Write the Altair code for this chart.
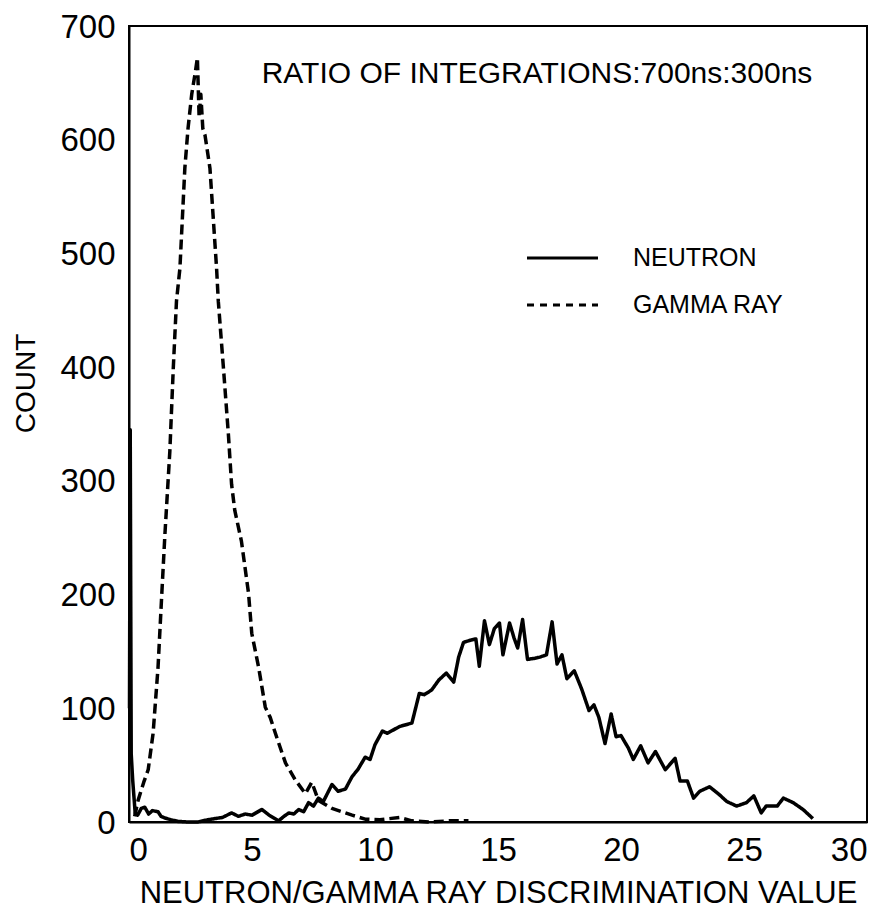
import altair as alt
import pandas as pd

# ---- data ----
neutron_x = [0.02, 0.05, 0.09, 0.15, 0.25, 0.35, 0.5, 0.64, 0.8, 0.95, 1.18, 1.3, 1.46, 1.7, 2.0, 2.4,
             2.8, 3.2, 3.5, 3.8, 4.17, 4.45, 4.72, 5.0, 5.4, 5.7, 6.08, 6.3, 6.5, 6.7, 6.9, 7.1, 7.3,
             7.5, 7.7, 7.9, 8.25, 8.5, 8.8, 9.07, 9.3, 9.6, 9.8, 10.0, 10.3, 10.5, 11.0, 11.5, 11.8,
             12.0, 12.3, 12.6, 12.9, 13.2, 13.4, 13.6, 13.9, 14.1, 14.24, 14.45, 14.65, 14.85, 15.06,
             15.2, 15.47, 15.65, 15.8, 16.0, 16.2, 16.5, 16.7, 16.97, 17.2, 17.4, 17.6, 17.8, 18.1,
             18.4, 18.7, 18.9, 19.1, 19.35, 19.6, 19.8, 20.0, 20.3, 20.5, 20.8, 21.1, 21.4, 21.8,
             22.2, 22.4, 22.7, 22.95, 23.2, 23.6, 24.0, 24.3, 24.7, 25.1, 25.4, 25.7, 25.9, 26.35,
             26.6, 27.0, 27.4, 27.8]
neutron_y = [100, 345, 60, 37, 8, 6, 12, 13, 7, 10, 9, 5, 3.5, 2, 0.5, 0,
             0, 2, 3, 4, 8, 5, 7, 6, 11, 6, 1, 5, 8, 7, 11, 9, 17,
             14, 21, 18, 33, 27, 29, 40, 46, 57, 55, 68, 80, 78, 84, 87, 113,
             112, 116, 125, 131, 123, 145, 158, 160, 161, 137, 177, 156, 170, 175,
             147, 175, 162, 153, 178, 143, 144, 145, 147, 176, 139, 147, 126, 133,
             117, 98, 103, 92, 69, 95, 75, 76, 65, 55, 67, 52, 62, 46,
             56, 36, 36, 21, 27, 31, 24, 18, 14, 17, 23, 8, 14, 14,
             21, 17, 11, 3]

gamma_x = [0.23, 0.37, 0.6, 0.78, 0.98, 1.18, 1.32, 1.46, 1.66, 1.8, 1.93, 2.07, 2.27, 2.4, 2.55,
           2.7, 2.78, 2.85, 2.92, 3.0, 3.09, 3.29, 3.56, 3.63, 3.84, 4.04, 4.17, 4.3, 4.57, 4.86,
           4.99, 5.27, 5.54, 5.74, 5.95, 6.36, 6.76, 7.17, 7.43, 7.7, 8.25, 9.07, 9.6, 10.2, 11.0,
           11.5, 12.2, 13.0, 13.8]
gamma_y = [5, 19, 35, 46, 78, 136, 195, 253, 326, 399, 458, 487, 575, 610, 640,
           660, 672, 620, 640, 610, 604, 575, 487, 458, 399, 341, 297, 274, 247, 201,
           166, 136, 101, 92, 78, 52, 37, 25, 35, 19, 12, 6, 2.5, 2, 4,
           1, 0, 1, 1]

series_names = ["NEUTRON", "GAMMA RAY"]
x_ticks = [0, 5, 10, 15, 20, 25, 30]
y_ticks = [0, 100, 200, 300, 400, 500, 600, 700]
title_text = "RATIO OF INTEGRATIONS:700ns:300ns"
x_title = "NEUTRON/GAMMA RAY DISCRIMINATION VALUE"
y_title = "COUNT"

FONT = "Liberation Sans"

df = pd.concat([
    pd.DataFrame({"x": neutron_x, "y": neutron_y, "series": series_names[0],
                  "idx": range(len(neutron_x))}),
    pd.DataFrame({"x": gamma_x, "y": gamma_y, "series": series_names[1],
                  "idx": range(len(gamma_x))}),
])

dash_scale = alt.Scale(domain=series_names, range=[[1, 0], [10, 5]])

lines = alt.Chart(df).mark_line(color="black", strokeWidth=3.5, strokeJoin="round").encode(
    x=alt.X("x:Q", scale=alt.Scale(domain=[0, 30], nice=False, zero=False),
            axis=alt.Axis(values=x_ticks, title=x_title, titleY=71, titleBaseline="middle",
                          titleFontSize=31, labelPadding=12)),
    y=alt.Y("y:Q", scale=alt.Scale(domain=[0, 700], nice=False),
            axis=alt.Axis(values=y_ticks, title=y_title, titleX=-103, titleY=357,
                          titleAlign="center", titleBaseline="middle", titleAngle=270,
                          labelOffset=1)),
    strokeDash=alt.StrokeDash("series:N", scale=dash_scale, legend=None),
    order="idx:Q",
)

title_mark = alt.Chart(pd.DataFrame({"t": [title_text]})).mark_text(
    font=FONT, fontSize=30, align="center", baseline="middle", color="black"
).encode(text="t:N", x=alt.value(408), y=alt.value(48))

leg_rows = []
for i, name in enumerate(series_names):
    yy = 232 + i * 47
    d = pd.DataFrame({"s": [name]})
    rule = alt.Chart(d).mark_rule(color="black", strokeWidth=3,
                                  strokeDash=[1, 0] if i == 0 else [7, 6]).encode(
        x=alt.value(398), x2=alt.value(469), y=alt.value(yy))
    txt = alt.Chart(d).mark_text(font=FONT, fontSize=25, align="left", baseline="middle",
                                 color="black").encode(
        text="s:N", x=alt.value(504), y=alt.value(yy))
    leg_rows += [rule, txt]

chart = alt.layer(lines, title_mark, *leg_rows).properties(
    width=738, height=796,
    autosize=alt.AutoSizeParams(type="none"),
    padding={"left": 121, "top": 18, "right": 18, "bottom": 90},
    background="white",
).configure_view(
    stroke="black", strokeWidth=2
).configure_axis(
    labelFont=FONT, labelFontSize=33, labelColor="black",
    titleFont=FONT, titleFontSize=28, titleFontWeight="normal", titleColor="black",
    grid=False, ticks=False, labelPadding=14,
    domainColor="black", domainWidth=2,
)

chart.save("out.html", embed_options={"renderer": "svg", "actions": False})
